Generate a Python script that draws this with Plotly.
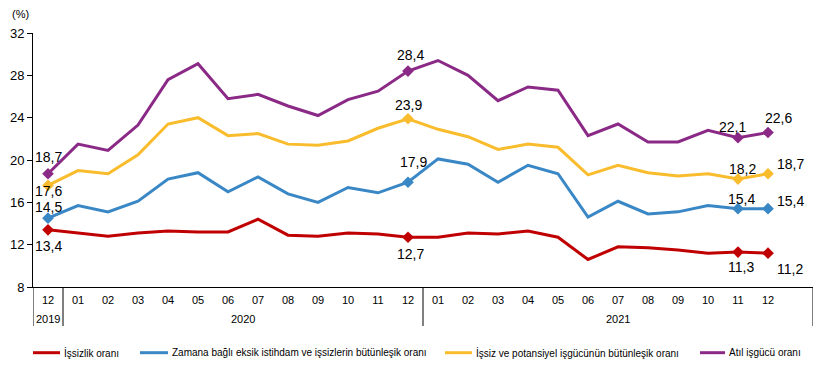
import plotly.graph_objects as go

months = ["12", "01", "02", "03", "04", "05", "06", "07", "08", "09", "10", "11", "12",
          "01", "02", "03", "04", "05", "06", "07", "08", "09", "10", "11", "12"]
years = ["2019"] + ["2020"] * 12 + ["2021"] * 12
extra_slots = 1  # empty slot kept at the right end of 2021

issizlik = [13.4, 13.1, 12.8, 13.1, 13.3, 13.2, 13.2, 14.4, 12.9, 12.8, 13.1, 13.0, 12.7,
            12.7, 13.1, 13.0, 13.3, 12.7, 10.6, 11.8, 11.7, 11.5, 11.2, 11.3, 11.2]
zamana = [14.5, 15.7, 15.1, 16.1, 18.2, 18.8, 17.0, 18.4, 16.8, 16.0, 17.4, 16.9, 17.9,
          20.1, 19.6, 17.9, 19.5, 18.7, 14.6, 16.1, 14.9, 15.1, 15.7, 15.4, 15.4]
potansiyel = [17.6, 19.0, 18.7, 20.5, 23.4, 24.0, 22.3, 22.5, 21.5, 21.4, 21.8, 23.0, 23.9,
              22.9, 22.2, 21.0, 21.5, 21.2, 18.6, 19.5, 18.8, 18.5, 18.7, 18.2, 18.7]
atil = [18.7, 21.5, 20.9, 23.3, 27.6, 29.1, 25.8, 26.2, 25.1, 24.2, 25.7, 26.5, 28.4,
        29.4, 28.0, 25.6, 26.9, 26.6, 22.3, 23.4, 21.7, 21.7, 22.8, 22.1, 22.6]

series_names = ["İşsizlik oranı",
                "Zamana bağlı eksik istihdam ve işsizlerin bütünleşik oranı",
                "İşsiz ve potansiyel işgücünün bütünleşik oranı",
                "Atıl işgücü oranı"]
series_values = [issizlik, zamana, potansiyel, atil]
colors = ["#C00000", "#3A87C6", "#F9BC2C", "#8B2A86"]
marked = [0, 12, 23, 24]

# label offsets (px) per series, per marked point
label_offsets = [
    [(0, -16), (2, -17), (3, -15), (22, -16)],
    [(0, 11), (5, 20), (3, 10), (22, 8)],
    [(0, -6), (0, 14), (4, 10), (22, 10)],
    [(0, 17), (2, 16), (-6, 11), (10, 14)],
]

FONT = "Liberation Sans, Arial, sans-serif"
n = len(months)
xs = list(range(n))

fig = go.Figure()
for name, vals, col in zip(series_names, series_values, colors):
    fig.add_trace(go.Scatter(x=xs, y=vals, mode="lines", name=name,
                             line=dict(color=col, width=3), showlegend=False,
                             hoverinfo="skip"))
    fig.add_trace(go.Scatter(x=[xs[i] for i in marked], y=[vals[i] for i in marked],
                             mode="markers", marker=dict(symbol="diamond", size=9, color=col),
                             showlegend=False, hoverinfo="skip"))

annotations = []
for vals, offs in zip(series_values, label_offsets):
    for i, (dx, dy) in zip(marked, offs):
        annotations.append(dict(x=xs[i], y=vals[i], xref="x", yref="y",
                                text=f"{vals[i]:.1f}".replace(".", ","), showarrow=False,
                                xshift=dx, yshift=dy, borderpad=0,
                                font=dict(family=FONT, size=14, color="#000000")))

# page geometry (px); the page body adds an 8px offset around the figure
OFF = 8
PL, PR, PT, PB = 33, 813, 33, 287          # plot area in page pixels
FIG_W, FIG_H = 836 - OFF, 376 - OFF
W, H = PR - PL, PB - PT

def py(pix_below_axis):
    return -pix_below_axis / H

def px(page_x):
    return (page_x - PL) / W

# year groups
groups = []
for i, yv in enumerate(years):
    if groups and groups[-1][0] == yv:
        groups[-1][2] = i
    else:
        groups.append([yv, i, i])
groups[-1][2] += extra_slots

shapes = []
for gi, (yv, a, b) in enumerate(groups):
    annotations.append(dict(x=(a + b) / 2, y=py(32), xref="x", yref="paper", text=yv,
                            showarrow=False, yanchor="middle",
                            font=dict(family=FONT, size=11, color="#000000")))
    for edge in ([a - 0.5, b + 0.5] if gi == 0 else [b + 0.5]):
        shapes.append(dict(type="line", xref="x", yref="paper", x0=edge, x1=edge,
                           y0=0, y1=py(39), line=dict(color="#000000", width=1)))

# custom legend
legend_items = [(33, 60, 62), (140, 168, 170), (445, 472, 474), (700, 725, 727)]
ly = py(352.7 - PB)
for (x0, x1, tx), name, col in zip(legend_items, series_names, colors):
    shapes.append(dict(type="line", xref="paper", yref="paper", x0=px(x0), x1=px(x1),
                       y0=ly, y1=ly, line=dict(color=col, width=3)))
    annotations.append(dict(x=px(tx), y=ly, xref="paper", yref="paper", text=name,
                            showarrow=False, xanchor="left", yanchor="middle",
                            font=dict(family=FONT, size=10, color="#000000")))

annotations.append(dict(x=px(10), y=1 + 19 / H, xref="paper", yref="paper", text="(%)",
                        showarrow=False, xanchor="left", yanchor="middle",
                        font=dict(family=FONT, size=11, color="#000000")))

fig.update_layout(
    template="none",
    width=FIG_W, height=FIG_H,
    margin=dict(l=PL - OFF, r=FIG_W - (PR - OFF), t=PT - OFF, b=FIG_H - (PB - OFF),
                autoexpand=False),
    paper_bgcolor="white", plot_bgcolor="white",
    font=dict(family=FONT, color="#000000"),
    annotations=annotations, shapes=shapes,
    xaxis=dict(range=[-0.5, n - 0.5 + extra_slots], tickmode="array", tickvals=xs,
               ticktext=months, showgrid=False, zeroline=False, showline=True,
               linecolor="#000000", linewidth=1, ticks="", automargin=False,
               ticklabelstandoff=3,
               tickfont=dict(family=FONT, size=11, color="#000000")),
    yaxis=dict(range=[8, 32], tickmode="linear", tick0=8, dtick=4, showgrid=False,
               zeroline=False, showline=True, linecolor="#000000", linewidth=1,
               ticks="outside", ticklen=5, tickcolor="#000000", automargin=False,
               tickfont=dict(family=FONT, size=13, color="#000000")),
)

fig.write_html("out.html")
